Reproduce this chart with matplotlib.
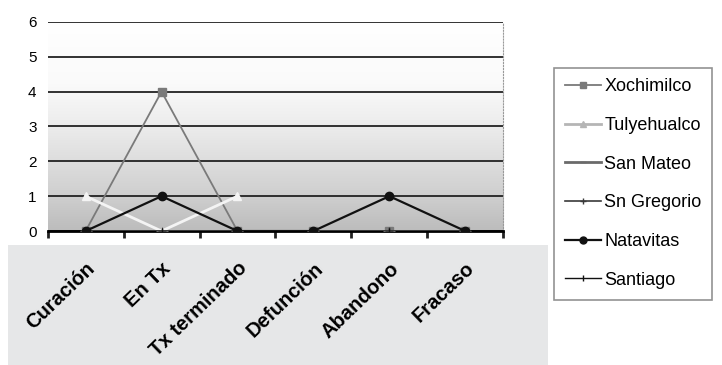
import numpy as np
import matplotlib
matplotlib.use('Agg')
import matplotlib.pyplot as plt
from matplotlib.patches import Rectangle
from matplotlib.colors import LinearSegmentedColormap

# Datos
categorias = ['Curación', 'En Tx', 'Tx terminado', 'Defunción', 'Abandono', 'Fracaso']
xochimilco = [0, 4, 0, 0, 0, 0]
tulyehualco = [1, 0, 1, np.nan, np.nan, np.nan]
san_mateo = [0, 0, 0, 0, 0, 0]
sn_gregorio = [0, 0, 0, 0, 0, 0]
natavitas = [0, 1, 0, 0, 1, 0]
santiago = [0, 0, 0, 0, 0, 0]
y_ticks = [0, 1, 2, 3, 4, 5, 6]

plt.rcParams['font.family'] = ['Liberation Sans', 'DejaVu Sans']

fig = plt.figure(figsize=(7.22, 3.65), dpi=100)
fig.patch.set_facecolor('white')

# Caja gris de las etiquetas del eje x
fig.patches.append(Rectangle((0.011, 0.0), 0.748, 0.329, transform=fig.transFigure,
                             facecolor='#e6e7e8', edgecolor='none', zorder=-5))

ax = fig.add_axes([0.066, 0.367, 0.631, 0.573])
x = np.arange(len(categorias))

# Fondo degradado del área de trazado
grad = np.linspace(0, 1, 256).reshape(-1, 1)
cmap = LinearSegmentedColormap.from_list(
    'g', [(0, '#bcbcbc'), (0.17, '#cfcfcf'), (0.34, '#dedede'),
          (0.5, '#ececec'), (0.7, '#fafafa'), (1, '#ffffff')])
ax.imshow(grad, extent=[-0.5, len(categorias) - 0.5, 0, 6], aspect='auto',
          cmap=cmap, origin='lower', zorder=0)

for yv in y_ticks:
    ax.axhline(yv, color='#222222', lw=1.3, zorder=1)

series = [
    ('Xochimilco', xochimilco, dict(color='#7a7a7a', marker='s', ms=6, lw=1.3)),
    ('Tulyehualco', tulyehualco, dict(color='#f4f4f4', marker='^', ms=6, lw=2)),
    ('San Mateo', san_mateo, dict(color='#6a6a6a', marker='_', ms=8, lw=2)),
    ('Sn Gregorio', sn_gregorio, dict(color='#3a3a3a', marker='+', ms=6, lw=1.2)),
    ('Natavitas', natavitas, dict(color='#111111', marker='o', ms=6, lw=1.6)),
    ('Santiago', santiago, dict(color='#111111', marker='|', ms=5, lw=1.0)),
]
for nombre, vals, st in series:
    ax.plot(x, vals, label=nombre, zorder=3, **st)

ax.set_xlim(-0.5, len(categorias) - 0.5)
ax.set_ylim(0, 6)
ax.set_yticks(y_ticks)
ax.set_yticklabels([str(v) for v in y_ticks], fontsize=11)
ax.tick_params(axis='y', length=0, pad=8)
ax.set_xticks(x)
ax.set_xticklabels(categorias, rotation=44, ha='right', va='top', rotation_mode='anchor',
                   fontsize=14.5, fontweight='bold')
ax.tick_params(axis='x', length=0, pad=20)
ax.set_xticks(np.arange(len(categorias) + 1) - 0.5, minor=True)
ax.tick_params(axis='x', which='minor', length=5, width=2, color='#222222', direction='out')

for s in ['top', 'left']:
    ax.spines[s].set_visible(False)
ax.spines['bottom'].set_linewidth(2)
ax.spines['right'].set_color('#999999')
ax.spines['right'].set_linestyle(':')

leg = fig.legend(loc='upper left', bbox_to_anchor=(0.768, 0.815), frameon=True,
                 fancybox=False, edgecolor='#777777', fontsize=13,
                 labelspacing=1.2, handlelength=2.0, handletextpad=0.15,
                 borderpad=0.6, borderaxespad=0)
leg.get_frame().set_linewidth(1.2)
for h in leg.legend_handles:
    h.set_markersize(5)
leg.legend_handles[1].set_color('#b5b5b5')

fig.savefig('out.png', dpi=100)
